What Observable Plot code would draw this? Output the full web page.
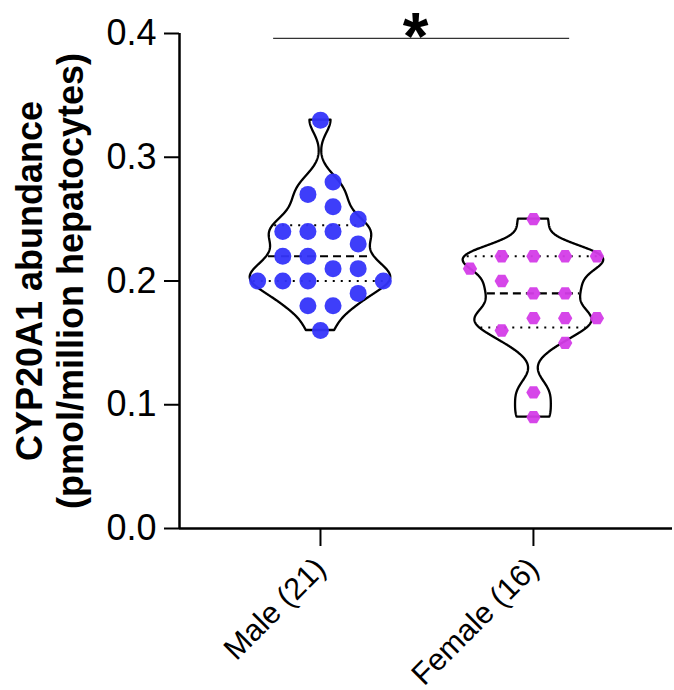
<!DOCTYPE html>
<html>
<head>
<meta charset="utf-8">
<script src="https://cdn.jsdelivr.net/npm/d3@7"></script>
<script src="https://cdn.jsdelivr.net/npm/@observablehq/plot@0.6"></script>
<style>
  html, body { margin: 0; padding: 0; background: #fff; }
  #chart { width: 674px; height: 690px; }
</style>
</head>
<body>
<div id="chart"></div>
<script>
// ---- data ----
const categories = ["Male (21)", "Female (16)"];
const categoryPos = [1, 2];
const yTicks = [0, 0.1, 0.2, 0.3, 0.4];
const yTitle = "CYP20A1 abundance\n(pmol/million hepatocytes)";

const maleValues  = [0.33, 0.28, 0.27, 0.26, 0.25, 0.24, 0.24, 0.24, 0.23, 0.22, 0.22,
                     0.21, 0.21, 0.20, 0.20, 0.20, 0.20, 0.19, 0.18, 0.18, 0.16];
const maleOffsets = [0, 0.5, -0.5, 0.5, 1.5, -1.5, -0.5, 0.5, 1.5, -1.5, -0.5,
                     0.5, 1.5, -2.5, -1.5, -0.5, 2.5, 1.5, -0.5, 0.5, 0];
const femaleValues  = [0.25, 0.22, 0.22, 0.22, 0.22, 0.21, 0.20, 0.19, 0.19,
                       0.17, 0.17, 0.17, 0.16, 0.15, 0.11, 0.09];
const femaleOffsets = [0, -1, 0, 1, 2, -2, -1, 0, 1, 0, 1, 2, -1, 1, 0, 0];

const sigX = [0.78, 2.17];
const sigY = 0.396;
const sigLabel = "*";

// ---- styling / layout constants ----
const xDomain = [0.338, 2.653];
const maleStep = 0.118, femaleStep = 0.149;
const bandwidth = 0.0105;
const halfWidthMax = 0.33;
const maleColor = "#3434fa", femaleColor = "#d43ce8";

// ---- derived ----
const groups = [
  {name: categories[0], c: categoryPos[0], values: maleValues, offsets: maleOffsets, step: maleStep},
  {name: categories[1], c: categoryPos[1], values: femaleValues, offsets: femaleOffsets, step: femaleStep}
];

function density(values, y) {
  let s = 0;
  for (const v of values) { const u = (y - v) / bandwidth; s += Math.exp(-0.5 * u * u); }
  return s;
}
function quartile(sorted, p) {
  const pos = (sorted.length + 1) * p;
  const lo = Math.floor(pos), frac = pos - lo;
  const a = sorted[Math.max(0, lo - 1)], b = sorted[Math.min(sorted.length - 1, lo)];
  return a + frac * (b - a);
}

const violin = [], quart = [], medians = [], points = [];
for (const g of groups) {
  const lo = d3.min(g.values), hi = d3.max(g.values);
  const grid = d3.range(lo, hi + 1e-9, 0.0005);
  if (grid[grid.length - 1] < hi) grid.push(hi);
  const dens = grid.map(y => density(g.values, y));
  const dmax = d3.max(dens);
  const hw = y => halfWidthMax * density(g.values, y) / dmax;
  grid.forEach((y, i) => {
    const w = halfWidthMax * dens[i] / dmax;
    violin.push({group: g.name, y, x1: g.c - w, x2: g.c + w});
  });
  const sorted = [...g.values].sort((a, b) => a - b);
  const q1 = quartile(sorted, 0.25), q2 = quartile(sorted, 0.5), q3 = quartile(sorted, 0.75);
  for (const q of [q1, q3]) quart.push({y: q, x1: g.c - hw(q) * 0.97, x2: g.c + hw(q) * 0.97});
  medians.push({y: q2, x1: g.c - hw(q2) * 0.97, x2: g.c + hw(q2) * 0.97});
  g.values.forEach((v, i) => points.push({group: g.name, y: v, x: g.c + g.offsets[i] * g.step}));
}
const malePts = points.filter(d => d.group === categories[0]);
const femalePts = points.filter(d => d.group === categories[1]);

const font = "'Liberation Sans', Arial, Helvetica, sans-serif";

const chart = Plot.plot({
  width: 674,
  height: 690,
  marginLeft: 179,
  marginRight: 2,
  marginTop: 33,
  marginBottom: 162,
  x: {domain: xDomain, axis: null},
  y: {domain: [0, 0.4], axis: null},
  style: {fontFamily: font, color: "black", background: "white", overflow: "visible"},
  marks: [
    Plot.areaX(violin, {y: "y", x1: "x1", x2: "x2", z: "group", fill: "white", stroke: "black", strokeWidth: 2.3, strokeLinejoin: "round"}),
    Plot.ruleY(quart, {y: "y", x1: "x1", x2: "x2", stroke: "black", strokeWidth: 2, strokeDasharray: "2,6"}),
    Plot.ruleY(medians, {y: "y", x1: "x1", x2: "x2", stroke: "black", strokeWidth: 2.2, strokeDasharray: "8,5"}),
    Plot.dot(malePts, {x: "x", y: "y", r: 8.5, symbol: "circle", fill: maleColor, fillOpacity: 0.95}),
    Plot.dot(femalePts, {x: "x", y: "y", r: 6.2, symbol: "hexagon", rotate: 90, fill: femaleColor, fillOpacity: 0.95}),
    Plot.ruleY([sigY], {x1: sigX[0], x2: sigX[1], stroke: "#333", strokeWidth: 1.3}),
    Plot.text([sigLabel], {x: (sigX[0] + sigX[1]) / 2, y: sigY, text: d => d, fontSize: 66, fontWeight: "bold", dy: -1, dx: -6, fill: "black"}),
    Plot.ruleX([xDomain[0]], {stroke: "black", strokeWidth: 2.5}),
    Plot.ruleY([0], {stroke: "black", strokeWidth: 2.5}),
    Plot.axisY({ticks: yTicks, tickFormat: d3.format(".1f"), tickSize: 15, tickPadding: 8, fontSize: 36, strokeWidth: 2, label: null}),
    Plot.axisX({ticks: categoryPos, tickFormat: (d, i) => categories[i], tickSize: 18, tickPadding: 17, tickRotate: -45, fontSize: 30.5, strokeWidth: 2, label: null}),
    Plot.text([yTitle], {frameAnchor: "left", text: d => d, rotate: -90, textAnchor: "middle", dx: -130, fontSize: 36, fontWeight: "bold", lineHeight: 1.14, fill: "black"})
  ]
});
document.getElementById("chart").appendChild(chart);
</script>
</body>
</html>
